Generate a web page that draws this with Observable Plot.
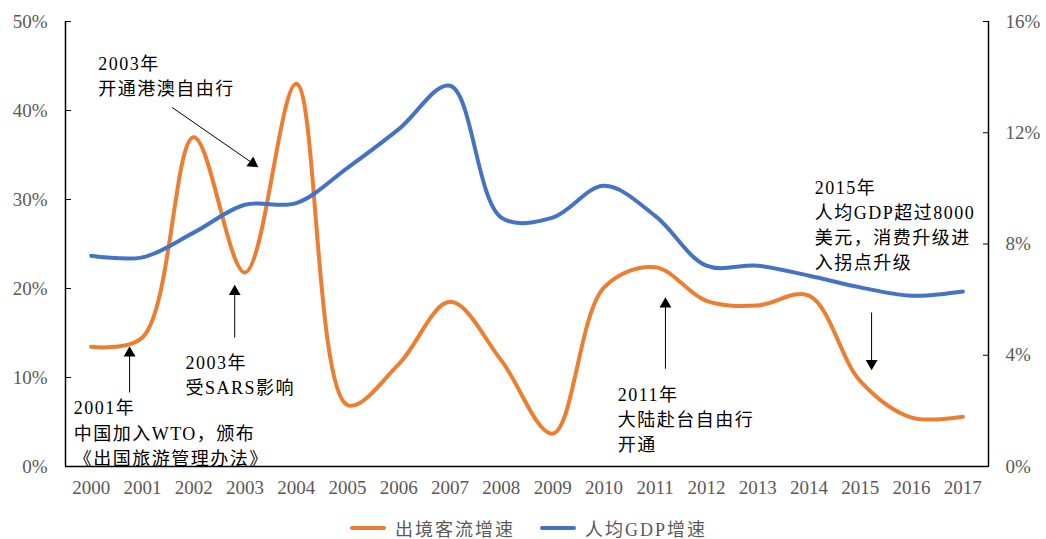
<!DOCTYPE html>
<html><head><meta charset="utf-8">
<script src="https://cdn.jsdelivr.net/npm/d3@7"></script>
<script src="https://cdn.jsdelivr.net/npm/@observablehq/plot@0.6"></script>
<style>
body{margin:0;background:#fff;font-family:"Liberation Serif","Noto Sans CJK SC",serif;}
#chart g[aria-label="text"]{letter-spacing:1.5px}
#legend{position:relative;height:34px;width:1046px}
.item{position:absolute;top:0;height:46px;display:flex;align-items:center;font-size:18px;color:#595959;letter-spacing:2px;white-space:nowrap}
.sw{width:36px;height:4px;margin-right:9px;border-radius:2px}
</style></head><body>
<div id="chart"></div>
<div id="legend"></div>
<script>
const years = [2000,2001,2002,2003,2004,2005,2006,2007,2008,2009,2010,2011,2012,2013,2014,2015,2016,2017];
const outboundGrowth = [13.45,14.5,37.0,21.8,43.0,6.9,11.5,18.5,11.9,3.7,20.1,22.4,18.6,18.1,19.2,9.6,5.5,5.6];
const gdpGrowth = [7.58,7.52,8.41,9.41,9.47,10.74,12.13,13.69,8.95,8.95,10.09,9.01,7.22,7.22,6.86,6.44,6.14,6.29];
const leftTicks = [0,10,20,30,40,50];
const rightTicks = [0,4,8,12,16];
const leftMax = 50, rightMax = 16;
const seriesNames = ["出境客流增速","人均GDP增速"];
const seriesColors = ["#ED7D31","#4472C4"];
const legendLeft = [350, 540];

// annotation texts (x in years, y in left-axis %)
const noteX = [2000.14, 2001.84, 1999.66, 2010.27, 2014.11];
const noteY = [44.07, 10.42, 3.92, 5.44, 27.33];
const noteText = [
  "2003年\n开通港澳自由行",
  "2003年\n受SARS影响",
  "2001年\n中国加入WTO，颁布\n《出国旅游管理办法》",
  "2011年\n大陆赴台自由行\n开通",
  "2015年\n人均GDP超过8000\n美元，消费升级进\n入拐点升级"
];
// arrows: start and head (x in years, y in left-axis %)
const arrowX1 = [2001.58, 2002.80, 2000.75, 2011.20, 2015.22];
const arrowY1 = [40.34, 14.49, 8.31, 10.98, 17.30];
const arrowX2 = [2003.15, 2002.80, 2000.75, 2011.20, 2015.22];
const arrowY2 = [34.07, 19.66, 12.73, 18.24, 11.58];
const arrowRotate = [124.7, 0, 0, 0, 180];

const rows = years.flatMap((yr, i) => [
  {year: yr, value: outboundGrowth[i], series: seriesNames[0]},
  {year: yr, value: gdpGrowth[i] * leftMax / rightMax, series: seriesNames[1]}
]);
const notes = noteText.map((t, i) => ({x: noteX[i], y: noteY[i], text: t}));
const arrows = arrowX1.map((x, i) => ({x1: x, y1: arrowY1[i], x2: arrowX2[i], y2: arrowY2[i], rotate: arrowRotate[i]}));

const font = '"Liberation Serif","Noto Sans CJK SC",serif';
const chart = Plot.plot({
  width: 1046,
  height: 505,
  marginLeft: 65,
  marginRight: 58,
  marginTop: 21,
  marginBottom: 39,
  style: {fontFamily: font, fontSize: "19px", background: "#fff"},
  x: {domain: [1999.5, 2017.5]},
  y: {domain: [0, leftMax]},
  color: {domain: seriesNames, range: seriesColors},
  marks: [
    Plot.axisX({ticks: years, tickFormat: d => String(d), tickSize: 0, tickPadding: 14, fill: "#595959", label: null}),
    Plot.axisY({anchor: "left", ticks: leftTicks, tickFormat: d => d + "%", tickSize: -6, tickPadding: 24, fill: "#595959", stroke: "black", label: null}),
    Plot.axisY({anchor: "right", ticks: rightTicks.map(t => t * leftMax / rightMax), tickFormat: d => Math.round(d * rightMax / leftMax) + "%", tickSize: -6, tickPadding: 23, fill: "#595959", stroke: "black", label: null}),
    Plot.ruleX([1999.5, 2017.5], {y1: 0, y2: leftMax, stroke: "black", strokeWidth: 1.5}),
    Plot.ruleY([0], {x1: 1999.5, x2: 2017.5, stroke: "black", strokeWidth: 1.5}),
    Plot.line(rows, {x: "year", y: "value", z: "series", stroke: "series", strokeWidth: 4, curve: "catmull-rom"}),
    Plot.link(arrows, {x1: "x1", y1: "y1", x2: "x2", y2: "y2", stroke: "black", strokeWidth: 1}),
    Plot.dot(arrows, {x: "x2", y: "y2", symbol: "triangle", r: 4.4, fill: "black", stroke: "none", rotate: "rotate"}),
    Plot.text(notes, {x: "x", y: "y", text: "text", textAnchor: "start", lineAnchor: "middle", lineHeight: 1.4, fontSize: 18, fill: "black"})
  ]
});
document.getElementById("chart").appendChild(chart);

const legend = document.getElementById("legend");
legend.style.height = "46px";
seriesNames.forEach((name, i) => {
  const item = document.createElement("div");
  item.className = "item";
  item.style.left = legendLeft[i] + "px";
  const sw = document.createElement("div");
  sw.className = "sw";
  sw.style.background = seriesColors[i];
  const label = document.createElement("span");
  label.textContent = name;
  item.appendChild(sw);
  item.appendChild(label);
  legend.appendChild(item);
});
</script>
</body></html>
